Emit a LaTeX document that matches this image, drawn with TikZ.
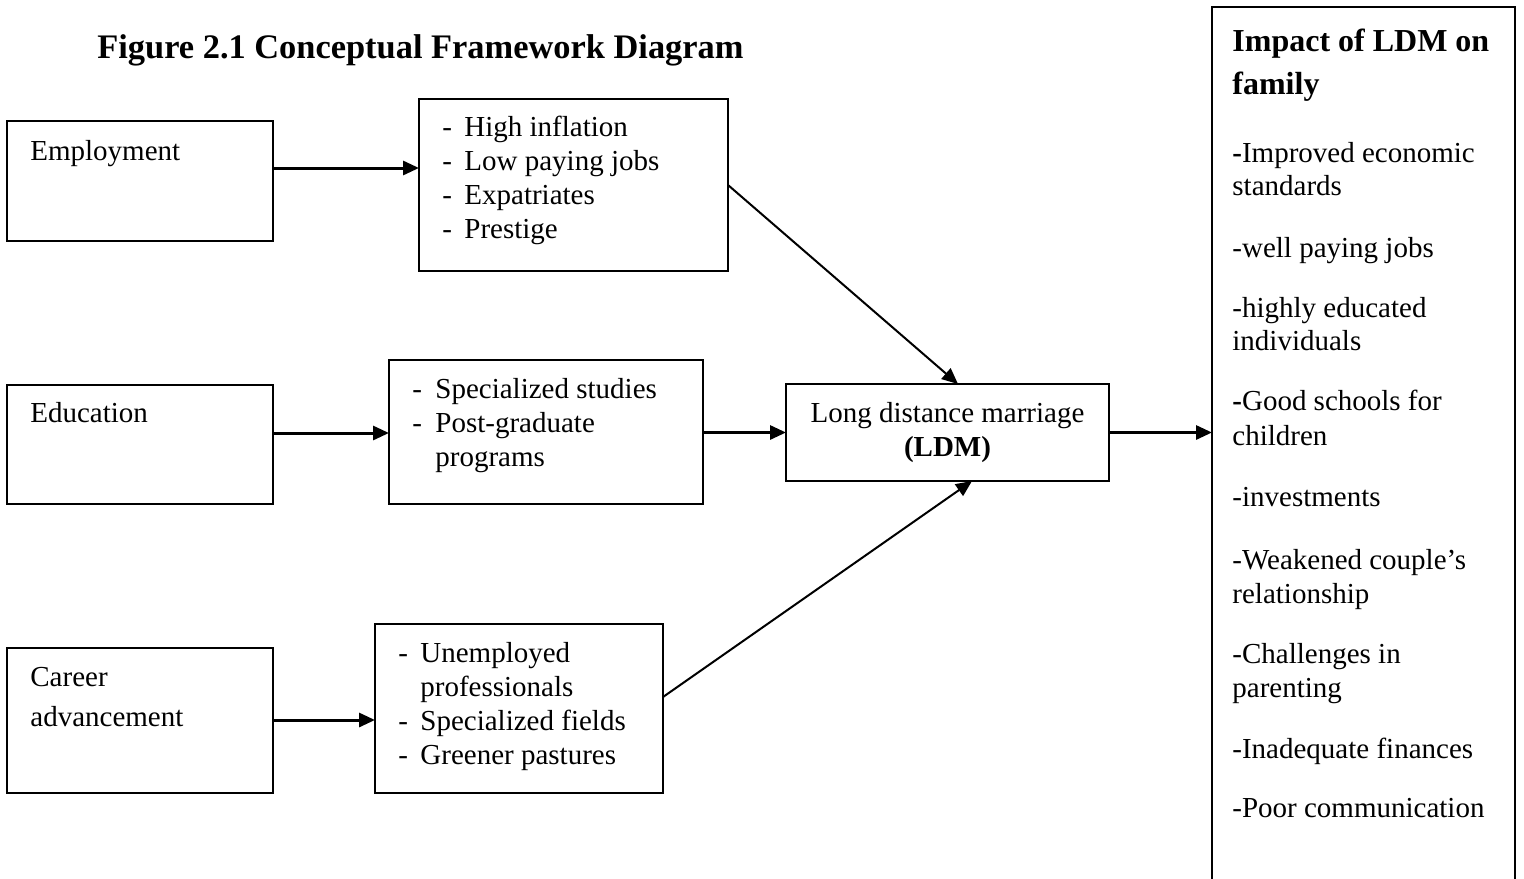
\documentclass[tikz,border=0pt]{standalone}
\usepackage{fontspec}
\setmainfont{Liberation Serif}
\usetikzlibrary{arrows.meta}
\newcommand\myfs{\fontsize{14.5}{17}\selectfont}
\newcommand\myhead{\fontsize{16}{19}\selectfont\bfseries}
\newcommand\mytitle{\fontsize{17.2}{20}\selectfont\bfseries}
\begin{document}
\begin{tikzpicture}[x=0.5pt,y=-0.5pt,
  box/.style={draw,line width=0.9pt,rectangle,inner sep=0pt,outer sep=0pt},
  txt/.style={inner sep=0pt,anchor=base west,font=\myfs},
  arr/.style={line width=1.5pt,-{Triangle[length=8pt,width=7pt]}},
  darr/.style={line width=1pt,-{Triangle[length=8pt,width=7pt]}}]
\clip (0,0) rectangle (1524,878);
\fill[white] (0,0) rectangle (1524,878);
% boxes
\node[box,minimum width=133pt,minimum height=60pt] (emp) at (140,181) {};
\node[box,minimum width=154.5pt,minimum height=86pt] (b1) at (573.5,185) {};
\node[box,minimum width=133pt,minimum height=59.5pt] (edu) at (140,444.5) {};
\node[box,minimum width=157pt,minimum height=72pt] (b2) at (546,432) {};
\node[box,minimum width=161.5pt,minimum height=48.5pt] (ldm) at (947.5,432.5) {};
\node[box,minimum width=133pt,minimum height=72.5pt] (car) at (140,720.5) {};
\node[box,minimum width=144pt,minimum height=84.5pt] (b3) at (519,708.5) {};
\node[box,minimum width=151.5pt,minimum height=476.5pt] (imp) at (1363.5,483.5) {};
% title
\node[txt,font=\mytitle] (title) at (97,58) {Figure 2.1 Conceptual Framework Diagram};
% left texts
\node[txt] (t-emp) at (30,160) {Employment};
\node[txt] (t-edu) at (30,422) {Education};
\node[txt] (t-car1) at (30,686) {Career};
\node[txt] (t-car2) at (30,726) {advancement};
% box1
\node[txt] (d11) at (442,136) {-}; \node[txt] (t11) at (464,136) {High inflation};
\node[txt] (d12) at (442,170) {-}; \node[txt] (t12) at (464,170) {Low paying jobs};
\node[txt] (d13) at (442,204) {-}; \node[txt] (t13) at (464,204) {Expatriates};
\node[txt] (d14) at (442,238) {-}; \node[txt] (t14) at (464,238) {Prestige};
% box2
\node[txt] (d21) at (412,398) {-}; \node[txt] (t21) at (435,398) {Specialized studies};
\node[txt] (d22) at (412,432) {-}; \node[txt] (t22) at (435,432) {Post-graduate};
\node[txt] (t23) at (435,466) {programs};
% box3
\node[txt] (d31) at (398,662) {-}; \node[txt] (t31) at (420,662) {Unemployed};
\node[txt] (t32) at (420,696) {professionals};
\node[txt] (d33) at (398,730) {-}; \node[txt] (t33) at (420,730) {Specialized fields};
\node[txt] (d34) at (398,764) {-}; \node[txt] (t34) at (420,764) {Greener pastures};
% ldm
\node[txt,anchor=base] (l1) at (947.5,422) {Long distance marriage};
\node[txt,anchor=base] (l2) at (947.5,456) {\textbf{(LDM)}};
% impact box
\node[txt,font=\myhead] (h1) at (1232,51) {Impact of LDM on};
\node[txt,font=\myhead] (h2) at (1232,94) {family};
\node[txt] (i1) at (1232,162) {\textbf{-}Improved economic};
\node[txt] (i2) at (1232,195) {standards};
\node[txt] (i3) at (1232,257) {-well paying jobs};
\node[txt] (i4) at (1232,317) {-highly educated};
\node[txt] (i5) at (1232,350) {individuals};
\node[txt] (i6) at (1232,410) {\textbf{-}Good schools for};
\node[txt] (i7) at (1232,445) {children};
\node[txt] (i8) at (1232,506) {-investments};
\node[txt] (i9) at (1232,569) {-Weakened couple’s};
\node[txt] (i10) at (1232,603) {relationship};
\node[txt] (i11) at (1232,663) {-Challenges in};
\node[txt] (i12) at (1232,697) {parenting};
\node[txt] (i13) at (1232,758) {-Inadequate finances};
\node[txt] (i14) at (1232,817) {-Poor communication};
% connectors
\draw[arr] (emp.east |- 0,168) -- (b1.west |- 0,168);
\draw[arr] (edu.east |- 0,433) -- (b2.west |- 0,433);
\draw[arr] (car.east |- 0,720) -- (b3.west |- 0,720);
\draw[arr] (b2.east |- ldm.west) -- (ldm.west);
\draw[arr] (ldm.east) -- (imp.west |- ldm.east);
\draw[darr] (b1.east) -- (ldm.north -| 958,0);
\draw[darr] (b3.east |- 0,697) -- (ldm.south -| 972,0);
\end{tikzpicture}
\end{document}
